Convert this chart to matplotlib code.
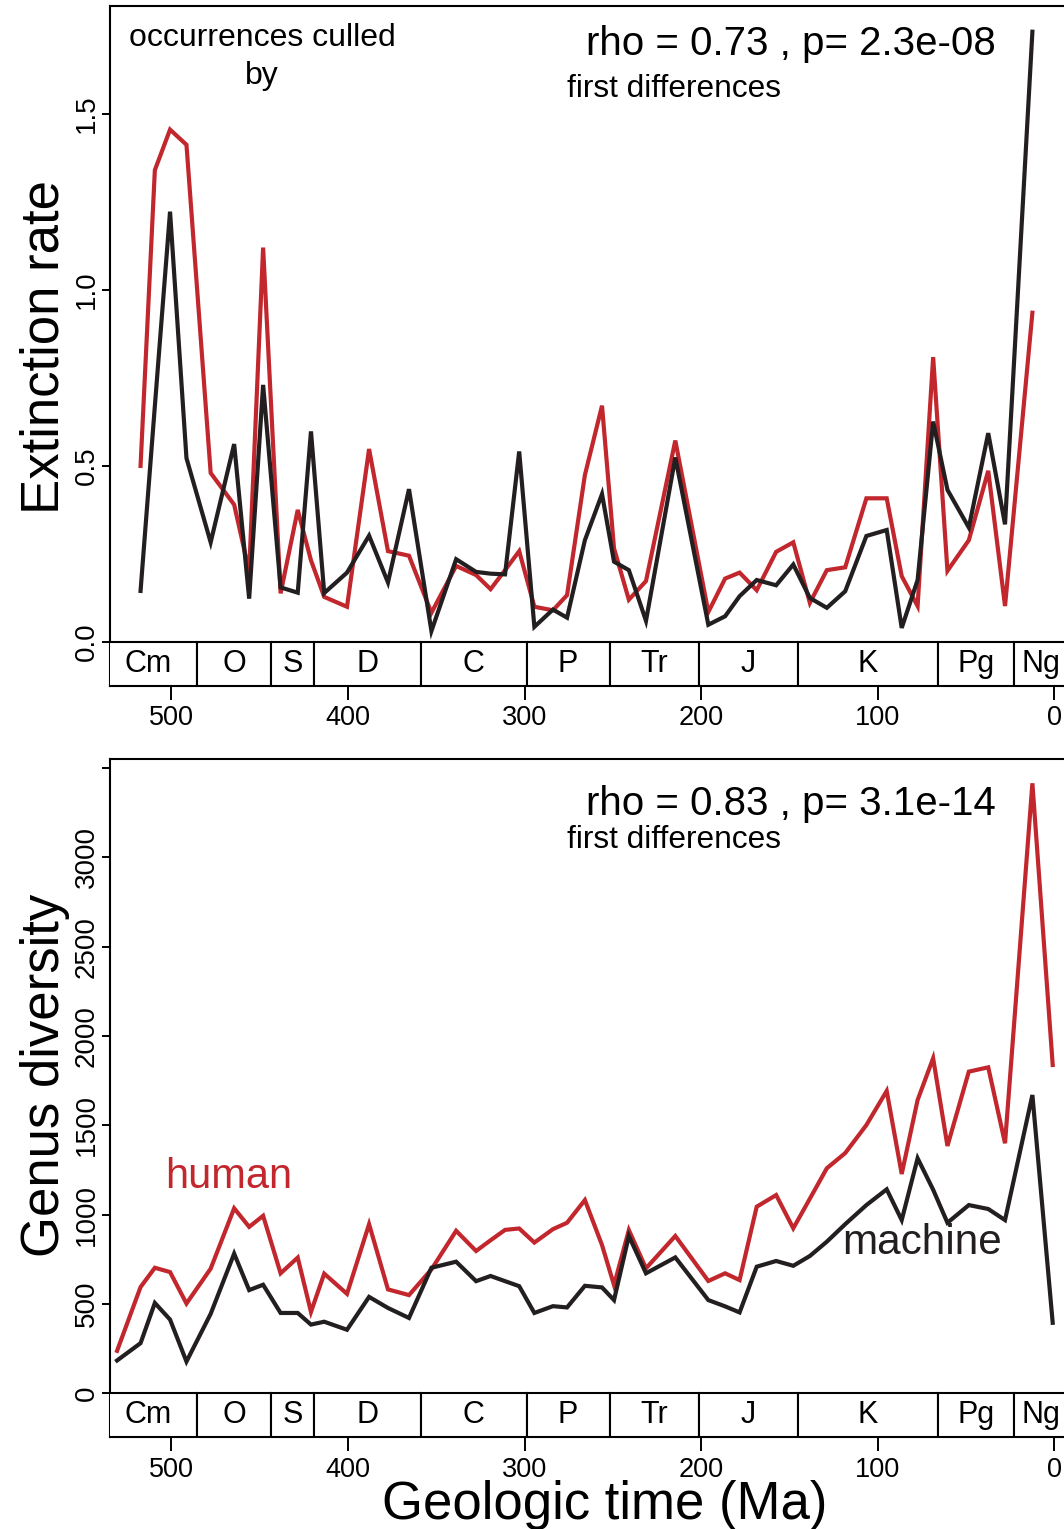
import matplotlib
matplotlib.use("Agg")
import matplotlib.pyplot as plt
from matplotlib.patches import Rectangle

plt.rcParams['font.family'] = ['Liberation Sans', 'DejaVu Sans']

# ---------------- data ----------------
# time bins (Ma) for extinction rates (top panel)
ages_ext = [517.5, 509.4, 500.8, 491.5, 477.8, 464.5, 456.0, 448.1, 438.2, 428.5,
            421.0, 413.5, 400.6, 388.1, 377.4, 365.5, 352.8, 338.8, 327.5, 319.3,
            311.1, 303.1, 294.5, 284.0, 276.0, 265.9, 256.2, 249.4, 241.0, 231.3,
            214.7, 196.0, 186.5, 178.3, 168.6, 157.6, 147.9, 138.5, 128.9, 118.5,
            106.5, 95.0, 86.5, 77.5, 68.7, 60.6, 48.5, 37.5, 28.0, 12.5]
ext_human = [0.50, 1.34, 1.455, 1.412, 0.48, 0.39, 0.20, 1.12, 0.138, 0.375,
             0.232, 0.128, 0.10, 0.548, 0.258, 0.245, 0.083, 0.216, 0.19, 0.15,
             0.204, 0.258, 0.10, 0.09, 0.133, 0.474, 0.671, 0.266, 0.12, 0.173,
             0.572, 0.085, 0.18, 0.197, 0.147, 0.256, 0.283, 0.111, 0.204, 0.212,
             0.408, 0.408, 0.187, 0.102, 0.809, 0.202, 0.289, 0.486, 0.102, 0.935]
ext_machine = [0.145, 0.67, 1.222, 0.522, 0.283, 0.562, 0.123, 0.73, 0.155, 0.14,
               0.598, 0.139, 0.197, 0.302, 0.169, 0.434, 0.031, 0.235, 0.199, 0.194,
               0.192, 0.541, 0.043, 0.092, 0.069, 0.289, 0.42, 0.228, 0.204, 0.06,
               0.524, 0.049, 0.073, 0.13, 0.176, 0.161, 0.22, 0.125, 0.097, 0.144,
               0.301, 0.318, 0.04, 0.176, 0.626, 0.432, 0.325, 0.593, 0.334, 1.733]

# time bins (Ma) for genus diversity (bottom panel)
ages_div = [530.8] + ages_ext + [1.0]
div_human = [238, 595, 703, 679, 503, 698, 1036, 932, 994, 672,
             760, 456, 670, 557, 947, 582, 550, 694, 910, 797,
             857, 915, 923, 844, 919, 955, 1082, 830, 606, 914,
             700, 881, 629, 672, 634, 1045, 1110, 924, 1090, 1260,
             1345, 1502, 1693, 1228, 1642, 1876, 1385, 1801, 1825, 1400,
             3415, 1838]
div_machine = [184, 281, 506, 413, 178, 445, 782, 578, 608, 450,
               450, 385, 401, 356, 540, 478, 422, 703, 737, 628,
               657, 628, 600, 450, 488, 481, 602, 593, 522, 881,
               672, 761, 522, 487, 453, 709, 741, 714, 769, 849,
               947, 1054, 1142, 970, 1316, 1140, 955, 1054, 1032, 970,
               1670, 395]

# geologic periods
period_names = ["Cm", "O", "S", "D", "C", "P", "Tr", "J", "K", "Pg", "Ng"]
period_start = [541.0, 485.4, 443.8, 419.2, 358.9, 298.9, 251.9, 201.3, 145.0, 66.0, 23.0]
period_end = [485.4, 443.8, 419.2, 358.9, 298.9, 251.9, 201.3, 145.0, 66.0, 23.0, -8.0]

x_ticks = [500, 400, 300, 200, 100, 0]
ext_ticks = [0.0, 0.5, 1.0, 1.5]
ext_ticklabels = ["0.0", "0.5", "1.0", "1.5"]
div_ticks = [0, 500, 1000, 1500, 2000, 2500, 3000, 3500]
div_ticklabels = ["0", "500", "1000", "1500", "2000", "2500", "3000", ""]

stats_ext = "rho = 0.73 , p= 2.3e-08"
stats_div = "rho = 0.83 , p= 3.1e-14"

# ---------------- style ----------------
RED = "#C1272D"
BLK = "#231F20"
W, H = 1064, 1529
fig = plt.figure(figsize=(W / 100, H / 100), dpi=100)

XL = (534.8, -8.0)


def px_axes(left, top, right, bottom):
    return [left / W, 1 - bottom / H, (right - left) / W, (bottom - top) / H]


def setup(ax, ylim, yticks, yticklabels):
    ax.set_xlim(*XL)
    ax.set_ylim(*ylim)
    for s in ax.spines.values():
        s.set_linewidth(1.5)
        s.set_color("black")
    ax.set_xticks(x_ticks)
    ax.set_xticklabels([str(v) for v in x_ticks], fontsize=19.5)
    ax.tick_params(axis='x', length=10, width=1.4, pad=4)
    ax.set_yticks(yticks)
    ax.set_yticklabels(yticklabels, fontsize=20)
    ax.tick_params(axis='y', length=5.5, width=1.4, pad=2)
    for lab in ax.get_yticklabels():
        lab.set_rotation(90)
        lab.set_va('center')
        lab.set_ha('right')
    # period band
    ylow = ylim[0]
    for name, s, e in zip(period_names, period_start, period_end):
        ax.add_patch(Rectangle((e, ylow), s - e, -ylow, facecolor='white',
                               edgecolor='black', linewidth=1.5, zorder=3))
        xc = (s + e) / 2
        if name == "Ng":
            xc = 7.5
        ax.text(xc, ylow / 2, name, ha='center', va='center', fontsize=22, zorder=4)


# ---- top panel ----
ax1 = fig.add_axes(px_axes(110, 6, 1068.6, 686))
setup(ax1, (-0.125, 1.806), ext_ticks, ext_ticklabels)
ax1.plot(ages_ext, ext_human, color=RED, lw=3.0, solid_joinstyle='miter', zorder=2)
ax1.plot(ages_ext, ext_machine, color=BLK, lw=3.0, solid_joinstyle='miter', zorder=2)
ax1.text(448.8, 1.716, "occurrences culled", ha='center', va='center', fontsize=23)
ax1.text(448.8, 1.608, "by", ha='center', va='center', fontsize=23)
ax1.text(149.3, 1.699, stats_ext, ha='center', va='center', fontsize=29)
ax1.text(215.5, 1.571, "first differences", ha='center', va='center', fontsize=22.8)

# ---- bottom panel ----
ax2 = fig.add_axes(px_axes(110, 759, 1068.6, 1437.3))
setup(ax2, (-246, 3551), div_ticks, div_ticklabels)
ax2.plot(ages_div, div_human, color=RED, lw=3.0, solid_joinstyle='miter', zorder=2)
ax2.plot(ages_div, div_machine, color=BLK, lw=3.0, solid_joinstyle='miter', zorder=2)
ax2.text(149.3, 3300, stats_div, ha='center', va='center', fontsize=29)
ax2.text(215.5, 3097, "first differences", ha='center', va='center', fontsize=22.8)
ax2.text(467.4, 1212, "human", color=RED, ha='center', va='center', fontsize=30)
ax2.text(75, 843, "machine", color=BLK, ha='center', va='center', fontsize=30.5)

# axis titles
fig.text(59 / W, 1 - 347 / H, "Extinction rate", rotation=90, rotation_mode='anchor',
         ha='center', va='baseline', fontsize=38)
fig.text(59 / W, 1 - 1075 / H, "Genus diversity", rotation=90, rotation_mode='anchor',
         ha='center', va='baseline', fontsize=38)
fig.text(605 / W, 1 - 1519 / H, "Geologic time (Ma)", ha='center', va='baseline',
         fontsize=38)

fig.savefig("out.png", dpi=100)
